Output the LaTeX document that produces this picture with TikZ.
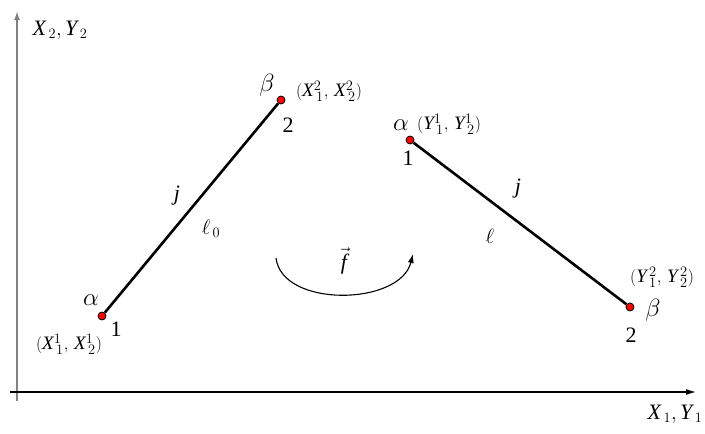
\documentclass[tikz,border=0pt]{standalone}
\usepackage{fontspec}
\setmainfont{Liberation Serif}
\usetikzlibrary{arrows.meta}
\definecolor{ejeGris}{HTML}{808080}
\definecolor{ptoRojo}{HTML}{FF0000}

\begin{document}
\begin{tikzpicture}[x=1pt, y=-1pt, font=\fontsize{22}{26}\selectfont,
    every node/.style={inner sep=1pt},
    pto/.style={circle, draw=black, fill=ptoRojo, line width=0.8pt, inner sep=0pt, minimum size=8pt},
    coord/.style={font=\fontsize{19}{22}\selectfont},
    griega/.style={font=\fontsize{25}{28}\selectfont},
    barra/.style={line width=2.6pt}]
  \useasboundingbox (0,0) rectangle (705,434);
  % ejes
  \coordinate (oy0) at (17,401);
  \coordinate (oy1) at (17,11);
  \coordinate (ox0) at (10,392);
  \coordinate (ox1) at (696,392);
  \draw[ejeGris, line width=1.8pt, -{Latex[length=9pt,width=6pt]}] (oy0) -- (oy1);
  \draw[line width=1.2pt, -{Latex[length=10pt,width=6pt]}] (ox0) -- (ox1);
  \node (ejeY) at (60,30) {$\mathit{X}_{\,2},\mathit{Y}_{\,2}$};
  \node (ejeX) at (675,414) {$\mathit{X}_{\,1},\mathit{Y}_{\,1}$};
  % barra inicial
  \node[pto] (a1) at (102,316) {};
  \node[pto] (b2) at (281,100) {};
  \draw[barra] (a1) -- (b2);
  \node[griega] (alfa0) at (91,300) {$\alpha$};
  \node (uno0) at (116,329) {1};
  \node[coord] (xa) at (69,344) {$(\mathit{X}_{\,1}^{1},\,\mathit{X}_{\,2}^{1})$};
  \node[griega] (beta0) at (267,85) {$\beta$};
  \node (dos0) at (288,125) {2};
  \node[coord] (xb) at (329,91) {$(\mathit{X}_{\,1}^{2},\,\mathit{X}_{\,2}^{2})$};
  \node (j0) at (177,196) {$\mathit{j}$};
  \node (l0) at (211,229) {$\ell_{\,0}$};
  % transformacion
  \coordinate (f0) at (276,258);
  \coordinate (f1) at (413,254);
  \draw[line width=1.1pt, -{Latex[length=9pt,width=6pt]}] (f0) .. controls (282,308) and (400,306) .. (f1);
  \node (flecha) at (344,261) {$\vec{\mathit{f}}$};
  % barra final
  \node[pto] (a1r) at (410,140) {};
  \node[pto] (b2r) at (630,307) {};
  \draw[barra] (a1r) -- (b2r);
  \node[griega] (alfa1) at (401,125) {$\alpha$};
  \node[coord] (ya) at (449,124) {$(\mathit{Y}_{\,1}^{1},\,\mathit{Y}_{\,2}^{1})$};
  \node (uno1) at (408,158) {1};
  \node (j1) at (518,189) {$\mathit{j}$};
  \node (l1) at (490,236) {$\ell$};
  \node[coord] (yb) at (662,277) {$(\mathit{Y}_{\,1}^{\,2},\,\mathit{Y}_{\,2}^{\,2})$};
  \node[griega] (beta1) at (653,310) {$\beta$};
  \node (dos1) at (631,335) {2};
\end{tikzpicture}
\end{document}
